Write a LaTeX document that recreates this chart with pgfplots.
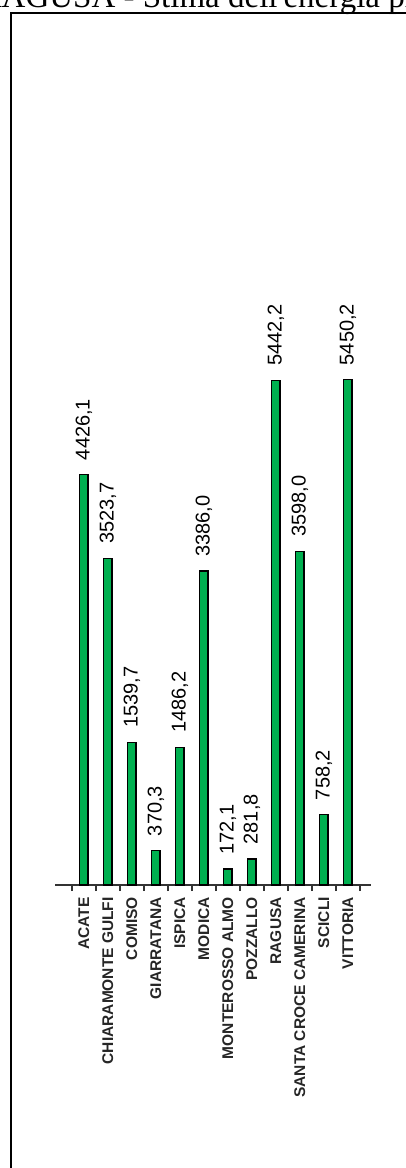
\documentclass[border=0pt]{standalone}
\usepackage{pgfplots}
\usepackage{pgfplotstable}
\pgfplotsset{compat=1.18}
\usepackage{fontspec}
\setmainfont{Liberation Sans}
\newfontfamily\titlefont{Liberation Serif}
\definecolor{bargreen}{RGB}{0,176,80}
\pgfplotstableread{
x y lab
0 4426.1 4426,1
1 3523.7 3523,7
2 1539.7 1539,7
3 370.3 370,3
4 1486.2 1486,2
5 3386.0 3386,0
6 172.1 172,1
7 281.8 281,8
8 5442.2 5442,2
9 3598.0 3598,0
10 758.2 758,2
11 5450.2 5450,2
}\data
\begin{document}
\begin{tikzpicture}[x=1pt,y=1pt]
\useasboundingbox (0,0) rectangle (406,-1168);
\clip (0,0) rectangle (406,-1168);
\draw[line width=2.3pt] (11,-13) rectangle (600,-1400);
\node[anchor=base west, inner sep=0pt, font=\titlefont\fontsize{33}{36}\selectfont] at (-20.5,-7.5) {RAGUSA - Stima dell'energia prodotta};
\begin{axis}[
  at={(55pt,-885pt)}, anchor=south west,
  scale only axis, width=315.6pt, height=556.2pt,
  xmin=-1.2, xmax=11.95, ymin=0, ymax=6000,
  axis x line*=bottom, hide y axis,
  axis line style={line width=1.6pt, black!80},
  clip=false,
  ybar, bar width=8.5pt,
  xtick={0,...,11},
  xticklabels={ACATE,CHIARAMONTE GULFI,COMISO,GIARRATANA,ISPICA,MODICA,MONTEROSSO ALMO,POZZALLO,RAGUSA,SANTA CROCE CAMERINA,SCICLI,VITTORIA},
  major tick length=0pt,
  minor xtick={-0.5,0.5,...,11.5},
  minor tick length=6pt,
  tick align=outside,
  every tick/.style={black!80, line width=1.4pt},
  xticklabel style={rotate=90, anchor=east, inner xsep=12pt, inner ysep=0pt, font=\bfseries\fontsize{15.5}{17}\selectfont, text=black!85},
  point meta=explicit symbolic,
  nodes near coords,
  every node near coord/.append style={rotate=90, anchor=west, inner xsep=14pt, inner ysep=0pt, font=\fontsize{20}{22}\selectfont, text=black},
]
\addplot[ybar, bar width=8.5pt, fill=bargreen, draw=black, line width=1.3pt] table[x=x, y=y, meta=lab] {\data};
\end{axis}
\end{tikzpicture}
\end{document}
